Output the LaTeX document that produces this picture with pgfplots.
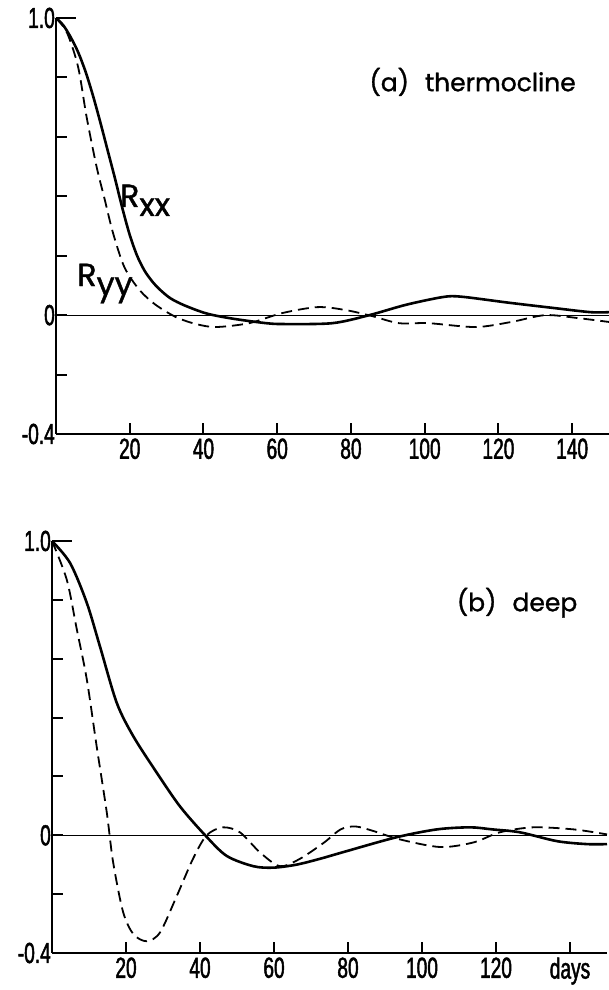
\documentclass[border=0pt]{standalone}
\usepackage{fontspec}
\usepackage{pgfplots}
\pgfplotsset{compat=1.18}
\setmainfont{Liberation Sans}
\newfontfamily\condfont{Liberation Sans}[FakeStretch=0.66, FakeBold=1.6]
\newfontfamily\futfont{Poppins}[FakeBold=1.2]

% autocorrelation, panel (a) thermocline
\def\RxxA{
(0,1.0) (2,0.975) (4,0.935) (6,0.885) (8,0.82) (10,0.74) (12,0.65) (14,0.555)
(16,0.46) (18,0.36) (20,0.27) (22,0.2) (24,0.15) (26,0.115) (28,0.088)
(31,0.057) (35,0.032) (41,0.005) (48,-0.012) (57,-0.027) (62,-0.03)
(75,-0.027) (85,0) (95,0.035) (105,0.061) (110,0.062) (122.7,0.042)
(135,0.024) (145,0.01) (150,0.01)}
\def\RyyA{
(0,1.0) (3,0.95) (6,0.835) (8.3,0.667) (11,0.5) (13.2,0.39) (15.5,0.275)
(18.6,0.16) (22.7,0.084) (27,0.035) (32.6,-0.007) (38,-0.03) (43.4,-0.04)
(52.4,-0.027) (61.4,0.007) (71,0.027) (78.6,0.017) (85.7,-0.003) (93,-0.027)
(101,-0.027) (113.8,-0.04) (123.5,-0.023) (132.7,0) (141.6,-0.01) (150,-0.023)}
% panel (b) deep
\def\RxxB{
(0,1.0) (4.9,0.925) (9.4,0.79) (13,0.64) (17.5,0.45) (22,0.336) (28.3,0.213)
(34.6,0.098) (41.4,0) (47.2,-0.07) (54.4,-0.105) (59.8,-0.11) (66,-0.1)
(72.4,-0.08) (79.6,-0.054) (93,-0.007) (104,0.02) (113,0.027) (119,0.02)
(126.5,0.01) (136.5,-0.02) (144.6,-0.03) (150,-0.03)}
\def\RyyB{
(0,1.0) (4,0.868) (6.7,0.70) (9.4,0.53) (12.1,0.30) (14.8,0.078) (16.5,-0.09)
(19.2,-0.26) (22,-0.336) (25.6,-0.36) (29.2,-0.33) (33.7,-0.207) (38.1,-0.08)
(41.8,0) (46.2,0.027) (50.8,0.01) (56.2,-0.058) (61.6,-0.105) (67,-0.08)
(73.5,-0.025) (78,0.02) (82,0.03) (87,0.014) (94,-0.014) (105,-0.04)
(114,-0.024) (121,0.01) (130,0.027) (141,0.02) (150,0.003)}

\tikzset{
  rlab/.style={anchor=base west, inner sep=0pt,
    font=\futfont\fontsize{32bp}{34bp}\selectfont},
}
\pgfplotsset{
  acf/.style={
    scale only axis,
    xmin=0, xmax=150, ymin=-0.4, ymax=1.0,
    axis x line=bottom, axis y line=left,
    axis line style={-, line width=2.4bp},
    tick style={line width=2bp, black},
    tick align=inside,
    major tick length=11bp,
    xtick={20,40,...,140},
    ytick={-0.4,-0.2,0,0.2,0.4,0.6,0.8},
    yticklabels={-0.4,{},0,{},{},{},{}},
    extra y ticks={1.0},
    extra y tick labels={1.0},
    extra y tick style={major tick length=20bp},
    /pgf/number format/assume math mode=true,
    ticklabel style={font=\condfont\fontsize{29bp}{31bp}\selectfont},
    yticklabel style={inner sep=1bp},
    xticklabel style={yshift=-1bp},
    clip=false,
  },
  solidc/.style={line width=2.6bp, smooth, tension=0.5},
  dashc/.style={line width=1.8bp, smooth, tension=0.5, dash pattern=on 11bp off 6bp},
}

\begin{document}
\begin{tikzpicture}
\useasboundingbox (0,0) rectangle (609bp,990bp);

\begin{axis}[acf, at={(56bp,556bp)}, anchor=south west,
  width=553bp, height=416bp]
  \addplot[line width=1bp] coordinates {(0,0) (150,0)};
  \addplot[solidc] coordinates {\RxxA};
  \addplot[dashc] coordinates {\RyyA};
  \node[rlab] at (axis cs:17.3,0.364) {R\lower9bp\hbox{xx}};
  \node[rlab] at (axis cs:5.7,0.098) {R\lower9bp\hbox{yy}};
  \node[font=\futfont\fontsize{25bp}{27bp}\selectfont]
    at (axis cs:113,0.785) {(a)\hspace{16bp}thermocline};
\end{axis}

\begin{axis}[acf, at={(52bp,37bp)}, anchor=south west,
  width=555bp, height=412bp,
  xticklabels={20,40,60,80,100,120,days}]
  \addplot[line width=1bp] coordinates {(0,0) (150,0)};
  \addplot[solidc] coordinates {\RxxB};
  \addplot[dashc] coordinates {\RyyB};
  \node[font=\futfont\fontsize{25bp}{27bp}\selectfont]
    at (axis cs:125.7,0.79) {(b)\hspace{16bp}deep};
\end{axis}
\end{tikzpicture}
\end{document}
